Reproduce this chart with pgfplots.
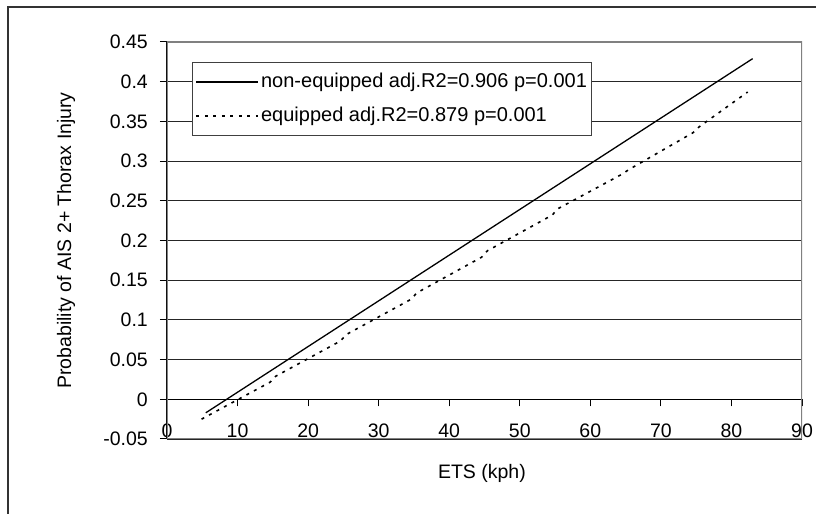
\documentclass[border=0pt]{standalone}
\usepackage{fontspec}
\setmainfont{Liberation Sans}
\usepackage{pgfplots}
\pgfplotsset{compat=1.18}
\begin{document}
\begin{tikzpicture}[x=1bp,y=1bp]
\useasboundingbox (-167,-75) rectangle (649,439);
% outer chart frame (cut by the image edge at right and bottom)
\draw[line width=1.2bp, black!80] (-159,-90) -- (-159,432) -- (660,432);
\begin{axis}[
  at={(0,0)}, anchor=south west,
  scale only axis, width=635bp, height=397bp,
  xmin=0, xmax=90, ymin=-0.05, ymax=0.45,
  axis x line=middle, axis y line=left,
  axis line style={-, black, line width=1bp},
  xtick={0,10,20,30,40,50,60,70,80,90},
  ytick={-0.05,0,0.05,0.1,0.15,0.2,0.25,0.3,0.35,0.4,0.45},
  tick align=outside, major tick length=7bp,
  tick style={black, line width=1bp},
  ymajorgrids, grid style={black!85, line width=0.8bp},
  hide obscured x ticks=false, hide obscured y ticks=false,
  scaled ticks=false,
  /pgf/number format/assume math mode=true,
  yticklabel style={/pgf/number format/fixed, /pgf/number format/precision=2,
    anchor=east, inner sep=0pt, xshift=-12bp},
  xticklabel style={anchor=north, inner sep=0pt, yshift=-17bp},
  ticklabel style={font=\fontsize{19.5bp}{23bp}\selectfont},
  every axis x label/.style={at={(axis description cs:0.496,-0.088)}, anchor=center,
    font=\fontsize{19.5bp}{23bp}\selectfont},
  every axis y label/.style={at={(axis description cs:-0.159,0.5)}, rotate=90, anchor=center,
    font=\fontsize{19.5bp}{23bp}\selectfont},
  xlabel={ETS (kph)},
  ylabel={Probability of AIS 2+ Thorax Injury},
  legend cell align=left,
  legend image code/.code={\draw[#1] (0bp,0bp) -- (62bp,0bp);},
  legend style={at={(0.0394,0.9496)}, anchor=north west,
    draw=black!75, line width=1bp, inner xsep=3bp, inner ysep=8.5bp,
    row sep=12bp,
    nodes={inner sep=2bp, text height=14bp, text depth=4bp,
      font=\fontsize{20bp}{24bp}\selectfont},
    /tikz/every even column/.style={column sep=2bp}},
]
\draw[black!50, line width=1.2bp] (rel axis cs:0,0) rectangle (rel axis cs:1,1);
\addplot[black, line width=1.3bp] coordinates {(5.5,-0.017) (83,0.429)};
\addlegendentry{non-equipped adj.R2=0.906 p=0.001}
\addplot[black, line width=1.6bp, dash pattern=on 3bp off 5.5bp] coordinates {
  (4.9,-0.025) (14.6,0.0215) (15.4,0.029) (24.6,0.0735) (25.4,0.0815)
  (34.6,0.126) (35.4,0.134) (44.6,0.179) (45.4,0.187) (54.6,0.232)
  (55.4,0.240) (64.6,0.284) (65.4,0.289) (74.6,0.336) (75.4,0.343)
  (82.3,0.387)
};
\addlegendentry{equipped adj.R2=0.879 p=0.001}
\end{axis}
\end{tikzpicture}
\end{document}
